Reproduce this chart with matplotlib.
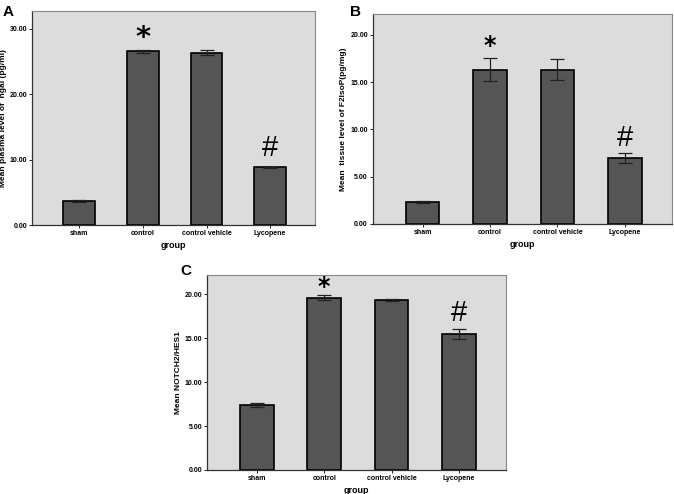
import matplotlib.pyplot as plt
import numpy as np

plt.rcParams['font.family'] = ['Liberation Sans', 'DejaVu Sans']

groups = ['sham', 'control', 'control vehicle', 'Lycopene']

ngal_mean = [3.6, 26.5, 26.3, 8.8]
ngal_err = [0.15, 0.3, 0.35, 0.12]

f2isop_mean = [2.3, 16.3, 16.3, 7.0]
f2isop_err = [0.12, 1.2, 1.1, 0.55]

notch_mean = [7.4, 19.6, 19.4, 15.5]
notch_err = [0.2, 0.3, 0.12, 0.6]


def drawPanel(ax, means, errs, ymax, yticks, ylabel, letter, star_y, hash_y,
              star_size=20):
    """
    Draws one SPSS-like bar panel
    """
    x = np.arange(len(groups))
    ax.set_facecolor('#dcdcdc')
    ax.bar(x, means, width=0.5, color='#555555', edgecolor='black',
           linewidth=1.2, zorder=2)
    ax.errorbar(x, means, yerr=errs, fmt='none', ecolor='#222222',
                elinewidth=0.9, capsize=5, capthick=0.9, zorder=3)
    ax.set_xlim(-0.74, 3.7)
    ax.set_ylim(0, ymax)
    ax.set_yticks(yticks)
    ax.set_yticklabels(['%.2f' % t for t in yticks])
    ax.set_xticks(x)
    ax.set_xticklabels(groups, fontweight='bold')
    ax.tick_params(labelsize=5, length=2, width=0.6, pad=1.5)
    ax.set_xlabel('group', fontsize=6.5, fontweight='bold', labelpad=3)
    ax.set_ylabel(ylabel, fontsize=6, fontweight='bold', labelpad=2)
    for t in ax.get_yticklabels():
        t.set_fontweight('bold')
    for s in ['top', 'right']:
        ax.spines[s].set_color('#888888')
        ax.spines[s].set_linewidth(0.8)
    for s in ['left', 'bottom']:
        ax.spines[s].set_color('#333333')
        ax.spines[s].set_linewidth(0.9)
    ax.text(1, star_y, '*', ha='center', va='center', fontsize=star_size,
            fontweight='bold', family='DejaVu Sans')
    ax.text(3, hash_y, '#', ha='center', va='center', fontsize=21)
    ax.text(-0.1, 1.0, letter, transform=ax.transAxes, fontsize=11,
            fontweight='bold', ha='left', va='center')


fig = plt.figure(figsize=(6.74, 4.94), dpi=100)

axA = fig.add_axes([0.0475, 0.5445, 0.4195, 0.4335])
drawPanel(axA, ngal_mean, ngal_err, 32.7, [0, 10, 20, 30],
          'Mean plasma level of  ngal (pg/ml)', 'A', 28.6, 11.8, 21)
axA.texts[-1].set_position((-0.105, 0.995))

axB = fig.add_axes([0.553, 0.5466, 0.444, 0.4251])
drawPanel(axB, f2isop_mean, f2isop_err, 22.2, [0, 5, 10, 15, 20],
          'Mean  tissue level of F2IsoP(pg/mg)', 'B', 18.8, 9.1, 17)
axB.texts[-1].set_position((-0.075, 1.01))

axC = fig.add_axes([0.307, 0.0486, 0.444, 0.3947])
drawPanel(axC, notch_mean, notch_err, 22.2, [0, 5, 10, 15, 20],
          'Mean NOTCH2/HES1', 'C', 20.8, 17.9, 17)
axC.texts[-1].set_position((-0.09, 1.02))

fig.savefig('out.png', dpi=100)
